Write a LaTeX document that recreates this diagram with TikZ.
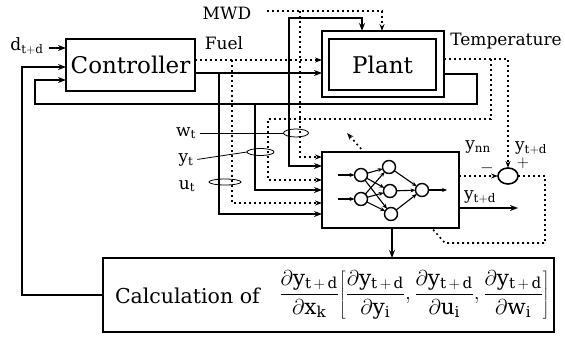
\documentclass[tikz,border=0pt]{standalone}
\usepackage{fix-cm}
\usepackage{fontspec}
\setmainfont{DejaVu Serif}
\usetikzlibrary{arrows.meta,backgrounds,shapes.geometric}
\begin{document}
\begin{tikzpicture}[x=1pt,y=-1pt,
  every node/.style={inner sep=0pt, outer sep=0pt},
  box/.style={draw, line width=2pt, fill=white},
  sl/.style={line width=2.2pt},
  dl/.style={line width=1.6pt, dash pattern=on 1.8pt off 3.2pt},
  arr/.style={-{Stealth[length=8pt,width=6pt]}},
  darr/.style={-{Stealth[length=7pt,width=5pt]}},
  nnarr/.style={line width=1.1pt, -{Stealth[length=5pt,width=4pt]}},
  lab/.style={font=\fontsize{17}{19}\selectfont},
  neuron/.style={draw, circle, line width=1.4pt, minimum size=13pt, fill=white},
  grp/.style={draw, ellipse, line width=0.8pt},
  ]
\useasboundingbox (0,0) rectangle (565,340);

% blocks
\node[box, minimum width=129pt, minimum height=52pt, font=\fontsize{23}{26}\selectfont] (ctrl) at (130.5,65) {Controller};
\node[draw, line width=2pt, minimum width=122pt, minimum height=66pt] (plant) at (383,64) {};
\node[draw, line width=2.8pt, minimum width=107pt, minimum height=51pt, font=\fontsize{23}{26}\selectfont] (plantin) at (382.5,64.5) {Plant};
\node[box, minimum width=137pt, minimum height=76pt] (nn) at (390.5,190) {};
\node[box, minimum width=451pt, minimum height=74pt] (calc) at (328.5,295) {};
\node[font=\fontsize{20.5}{23}\selectfont, anchor=west] (calctxt) at (115,296) {Calculation of};
\node[font=\fontsize{21.5}{24}\selectfont] (formula) at (414.5,295) {$\displaystyle \frac{\partial \mathrm{y}_{\mathrm{t\,+\,d}}}{\partial \mathrm{x}_{\mathrm{k}}}\!\left[\frac{\partial \mathrm{y}_{\mathrm{t\,+\,d}}}{\partial \mathrm{y}_{\mathrm{i}}},\frac{\partial \mathrm{y}_{\mathrm{t\,+\,d}}}{\partial \mathrm{u}_{\mathrm{i}}},\frac{\partial \mathrm{y}_{\mathrm{t\,+\,d}}}{\partial \mathrm{w}_{\mathrm{i}}}\right]$};
\node[draw, ellipse, line width=1.6pt, minimum width=20pt, minimum height=16pt] (sum) at (508,176) {};

% labels
\node[lab] (dlab) at (27,46) {$\mathrm{d}_{\mathrm{t+d}}$};
\node[lab] (mwd) at (227,13) {MWD};
\node[lab] (fuel) at (224,43) {Fuel};
\node[lab] (temp) at (506,41) {Temperature};
\node[lab] (wl) at (186,133) {$\mathrm{w}_{\mathrm{t}}$};
\node[lab] (yl) at (186,160) {$\mathrm{y}_{\mathrm{t}}$};
\node[lab] (ul) at (187,186) {$\mathrm{u}_{\mathrm{t}}$};
\node[lab] (ynn) at (478,147) {$\mathrm{y}_{\mathrm{nn}}$};
\node[lab] (yout) at (480,197) {$\mathrm{y}_{\mathrm{t+d}}$};
\node[lab] (ysum) at (531,148) {$\mathrm{y}_{\mathrm{t+d}}$};
\node[lab] (minus) at (487,168) {$-$};
\node[lab] (plus) at (523,163) {$+$};

% group ellipses
\node[grp, minimum width=25pt, minimum height=8pt] (we) at (296,133) {};
\node[grp, minimum width=27pt, minimum height=7pt] (ye) at (260.5,152) {};
\node[grp, minimum width=32pt, minimum height=6pt] (ue) at (225,182) {};
\draw[line width=0.8pt, shorten <=4pt] (wl.east) -- (we.west);
\draw[line width=0.8pt, shorten <=4pt] (yl.east) -- (ye.west);

% coordinates
\coordinate (dstart) at (49,48);
\coordinate (mwdd) at (267,11);
\coordinate (yend) at (518,208);

% controller inputs
\draw[sl,arr] (dstart) -- (ctrl.west |- 0,48);
\draw[sl,arr] (calc.west) -| (22,67) -- (ctrl.west |- 0,67);
\draw[sl,arr] (plant.east |- 0,74) -- (477,74) -- (477,104) -- (35,104) -- (35,80) -- (ctrl.west |- 0,80);

% fuel
\draw[dl,darr] (ctrl.east |- 0,60) -- (plant.west |- 0,60);
\draw[sl,arr] (ctrl.east |- 0,73) -- (plant.west |- 0,73);
\draw[sl,arr] (219,73) -- (219,214) -- (nn.west |- 0,214);
\draw[dl,darr] (232,60) -- (232,203) -- (nn.west |- 0,203);

% plant output branch
\draw[sl,arr] (255,104) -- (255,190) -- (nn.west |- 0,190);

% temperature
\draw[dl,darr] (plant.east |- 0,59) -- (508,59) -- (sum.north);
\draw[dl,darr] (491,59) -- (491,119) -- (268,119) -- (268,180) -- (nn.west |- 0,180);

% MWD
\draw[dl,darr] (mwdd) -- (382,11) -- (plant.north -| 382,0);
\draw[dl,darr] (300,11) -- (300,157) -- (nn.west |- 0,157);
\draw[sl,{Stealth[length=8pt,width=6pt]}-{Stealth[length=8pt,width=6pt]}] (plant.north -| 362,0) -- (362,18) -- (289,18) -- (289,166) -- (nn.west |- 0,166);

% NN outputs
\draw[dl,darr] (nn.east |- sum.west) -- (sum.west);
\begin{pgfonlayer}{background}
\draw[dl,darr] (sum.east) -- (545,176) -- (545,243) -- (445,243) -- (347,133);
\end{pgfonlayer}
\draw[sl,arr] (nn.south -| 392,0) -- (calc.north -| 392,0);
\draw[sl,arr] (nn.east |- yend) -- (yend);

% network inside
\node[neuron] (i1) at (361,175) {};
\node[neuron] (i2) at (361,199) {};
\node[neuron] (h1) at (389,167) {};
\node[neuron] (h2) at (390,191) {};
\node[neuron] (h3) at (391,214) {};
\node[neuron] (o) at (422,190) {};
\coordinate (in1) at (338,175);
\coordinate (in2) at (338,199);
\coordinate (oout) at (447,190);
\draw[nnarr] (in1) -- (i1);
\draw[nnarr] (in2) -- (i2);
\foreach \a in {i1,i2}{\foreach \b in {h1,h2,h3}{\draw[nnarr] (\a) -- (\b);}}
\foreach \b in {h1,h2,h3}{\draw[nnarr] (\b) -- (o);}
\draw[nnarr] (o) -- (oout);
\end{tikzpicture}
\end{document}
